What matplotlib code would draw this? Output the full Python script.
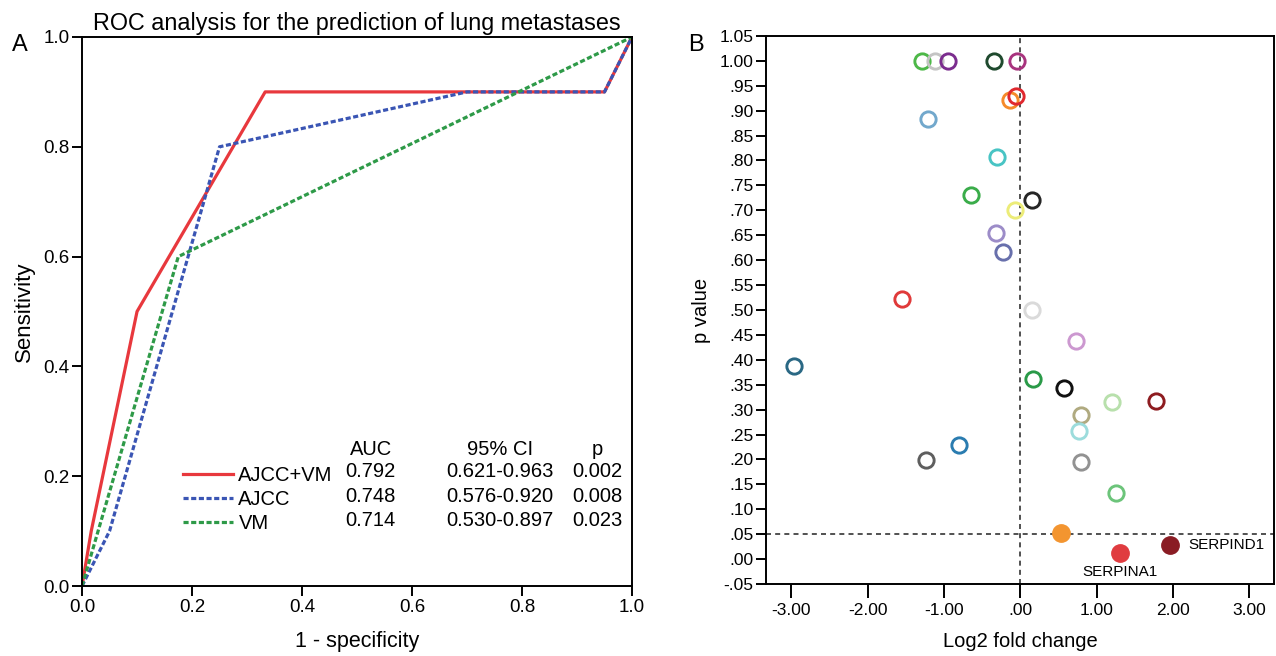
import matplotlib
matplotlib.use("Agg")
import matplotlib.pyplot as plt
from matplotlib.ticker import FuncFormatter

plt.rcParams["font.family"] = ["Liberation Sans", "DejaVu Sans"]

# ---- panel A: ROC curves ----
roc_names = ["AJCC+VM", "AJCC", "VM"]
roc_fpr = [
    [0.0, 0.0167, 0.1, 0.333, 0.95, 1.0],
    [0.0, 0.05, 0.25, 0.70, 0.95, 1.0],
    [0.0, 0.175, 1.0],
]
roc_tpr = [
    [0.0, 0.1, 0.5, 0.9, 0.9, 1.0],
    [0.0, 0.1, 0.8, 0.9, 0.9, 1.0],
    [0.0, 0.6, 1.0],
]
roc_colors = ["#e8383d", "#3a55b4", "#2e9a48"]
roc_styles = ["-", (0, (1.6, 0.8)), (0, (1.6, 0.8))]
auc_vals = ["0.792", "0.748", "0.714"]
ci_vals = ["0.621-0.963", "0.576-0.920", "0.530-0.897"]
p_vals = ["0.002", "0.008", "0.023"]

# ---- panel B: volcano-style scatter ----
log2fc = [-1.29, -1.12, -0.94, -0.34, -0.04, -0.13, -0.06, -1.21, -0.30, -0.64,
          0.15, -0.07, -0.32, -0.22, -1.55, 0.15, 0.73, -2.96, 0.17, 0.57,
          1.20, 1.78, 0.80, 0.77, -0.80, -1.23, 0.80, 1.26]
pvalue = [1.00, 1.00, 1.00, 1.00, 1.00, 0.921, 0.929, 0.884, 0.808, 0.730,
          0.720, 0.700, 0.654, 0.616, 0.521, 0.499, 0.437, 0.388, 0.362, 0.344,
          0.316, 0.317, 0.290, 0.257, 0.228, 0.198, 0.194, 0.132]
point_colors = ["#4db848", "#c4c4c4", "#7b2d8e", "#1f4a2e", "#a8337e", "#f58a2a",
                "#e0282e", "#72a8cc", "#48c4c4", "#3aac4a", "#262626", "#ecec78",
                "#9c8cc8", "#6870ac", "#e03a3a", "#dadada", "#cc98d0", "#2a6884",
                "#2a9a48", "#111111", "#b8e0ac", "#8e1c20", "#b0aa80", "#9cdcdc",
                "#2a7cb0", "#5e5e5e", "#929292", "#6cc47a"]
sig_genes = ["", "SERPINA1", "SERPIND1"]
sig_fc = [0.53, 1.31, 1.96]
sig_p = [0.052, 0.013, 0.028]
sig_colors = ["#f39530", "#e03c40", "#8a1c24"]
p_cut = 0.05

fig = plt.figure(figsize=(12.76, 6.56), dpi=100)

# ---------- A ----------
axA = fig.add_axes([0.0643, 0.1067, 0.431, 0.8369])
for name, x, y, c, ls in zip(roc_names, roc_fpr, roc_tpr, roc_colors, roc_styles):
    axA.plot(x, y, color=c, linestyle=ls, lw=2.3, label=name)
axA.set_xlim(0, 1)
axA.set_ylim(0, 1)
axA.set_xticks([0, 0.2, 0.4, 0.6, 0.8, 1.0])
axA.set_yticks([0, 0.2, 0.4, 0.6, 0.8, 1.0])
axA.xaxis.set_major_formatter(FuncFormatter(lambda v, p: f"{v:.1f}"))
axA.yaxis.set_major_formatter(FuncFormatter(lambda v, p: f"{v:.1f}"))
axA.tick_params(labelsize=13.5, length=7, width=1.4, direction="out", pad=2)
for s in axA.spines.values():
    s.set_linewidth(1.4)
axA.set_xlabel("1 - specificity", fontsize=15.5, labelpad=11)
axA.set_ylabel("Sensitivity", fontsize=16, labelpad=6)
axA.set_title("ROC analysis for the prediction of lung metastases", fontsize=16.8, pad=5)
leg = axA.legend(loc="upper left", bbox_to_anchor=(0.169, 0.234), frameon=False,
                 fontsize=14.5, handlelength=2.5, handletextpad=0.25, labelspacing=0.27,
                 borderaxespad=0)
col_x = [0.525, 0.76, 0.937]
fs_tab = 14.5
axA.text(col_x[0], 0.248, "AUC", fontsize=fs_tab, ha="center", va="center", transform=axA.transAxes)
axA.text(col_x[1], 0.248, "95% CI", fontsize=fs_tab, ha="center", va="center", transform=axA.transAxes)
axA.text(col_x[2], 0.248, "p", fontsize=fs_tab, ha="center", va="center", transform=axA.transAxes)
row_y = [0.208, 0.163, 0.119]
for ry, a, ci, pv in zip(row_y, auc_vals, ci_vals, p_vals):
    axA.text(col_x[0], ry, a, fontsize=fs_tab, ha="center", va="center", transform=axA.transAxes)
    axA.text(col_x[1], ry, ci, fontsize=fs_tab, ha="center", va="center", transform=axA.transAxes)
    axA.text(col_x[2], ry, pv, fontsize=fs_tab, ha="center", va="center", transform=axA.transAxes)
fig.text(0.009, 0.932, "A", fontsize=17, va="center")

# ---------- B ----------
axB = fig.add_axes([0.6003, 0.1098, 0.3985, 0.8354])
axB.axvline(0, color="#333333", ls=(0, (3, 2.5)), lw=1.2, zorder=1)
axB.axhline(p_cut, color="#333333", ls=(0, (3, 2.5)), lw=1.2, zorder=1)
for x, y, c in zip(log2fc, pvalue, point_colors):
    axB.plot(x, y, "o", ms=11, mfc="none", mec=c, mew=2.1, zorder=3)
for g, x, y, c in zip(sig_genes, sig_fc, sig_p, sig_colors):
    axB.plot(x, y, "o", ms=12.5, mfc=c, mec=c, zorder=3)
axB.annotate(sig_genes[2], (sig_fc[2], sig_p[2]), xytext=(13, 0), textcoords="offset points",
             fontsize=11, ha="left", va="center")
axB.annotate(sig_genes[1], (sig_fc[1], sig_p[1]), xytext=(0, -14), textcoords="offset points",
             fontsize=11, ha="center", va="center")
axB.set_xlim(-3.33, 3.33)
axB.set_ylim(-0.05, 1.05)
axB.set_xticks([-3, -2, -1, 0, 1, 2, 3])
axB.set_yticks([i * 0.05 - 0.05 for i in range(23)])


def two_dec(v, pos):
    s = f"{v:.2f}"
    if s.startswith("0."):
        s = s[1:]
    elif s.startswith("-0."):
        s = "-" + s[2:]
    if s == "-.00":
        s = ".00"
    return s


axB.xaxis.set_major_formatter(FuncFormatter(two_dec))
axB.yaxis.set_major_formatter(FuncFormatter(two_dec))
axB.tick_params(axis="y", labelsize=12.5, length=7, width=1.4, pad=2)
axB.tick_params(axis="x", labelsize=12.5, length=10, width=1.4, pad=4)
for s in axB.spines.values():
    s.set_linewidth(1.4)
axB.set_xlabel("Log2 fold change", fontsize=14.5, labelpad=10)
axB.set_ylabel("p value", fontsize=14.5, labelpad=6)
fig.text(0.539, 0.932, "B", fontsize=17, va="center")

fig.savefig("out.png", dpi=100)
